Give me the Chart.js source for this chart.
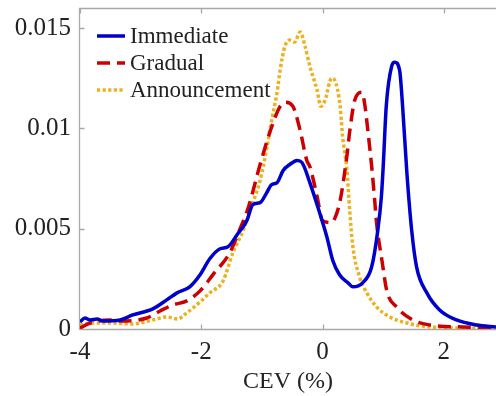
<!DOCTYPE html>
<html><head><meta charset="utf-8">
<script src="https://cdn.jsdelivr.net/npm/chart.js@4.4.1/dist/chart.umd.min.js"></script>
<style>html,body{margin:0;padding:0;background:#fff;overflow:hidden}</style>
</head><body>
<canvas id="c" width="496" height="396"></canvas>
<script>
// ---- data ----
const xTicks = [-4, -2, 0, 2];
const yTicks = [0, 0.005, 0.01, 0.015];
const seriesNames = ['Immediate', 'Gradual', 'Announcement'];

const immediateX = [-4.00,-3.92,-3.83,-3.72,-3.62,-3.34,-3.13,-2.80,-2.57,-2.40,-2.19,-2.02,-1.86,-1.69,-1.56,-1.41,-1.25,-1.15,-1.03,-0.92,-0.84,-0.75,-0.65,-0.54,-0.42,-0.34,-0.21,-0.08,0.07,0.17,0.28,0.42,0.50,0.66,0.81,0.91,0.97,1.00,1.05,1.14,1.19,1.27,1.32,1.39,1.47,1.55,1.72,1.93,2.21,2.54,2.86];
const immediateY = [0.00035,0.00055,0.00045,0.0005,0.0004,0.00045,0.0007,0.001,0.00145,0.0018,0.0021,0.0027,0.0035,0.0040,0.0041,0.0047,0.0054,0.0062,0.0063,0.0068,0.0072,0.0073,0.0079,0.0082,0.0084,0.0083,0.0073,0.0061,0.0046,0.0034,0.0027,0.0023,0.0021,0.0023,0.0031,0.0049,0.0066,0.0081,0.0111,0.0131,0.0133,0.0129,0.0111,0.0078,0.0049,0.0031,0.0018,0.00095,0.00045,0.0002,0.0001];

const gradualX = [-4.00,-3.83,-3.51,-3.34,-2.90,-2.68,-2.47,-2.24,-2.02,-1.81,-1.53,-1.36,-1.23,-1.03,-0.87,-0.70,-0.62,-0.49,-0.37,-0.26,-0.21,-0.09,0.00,0.15,0.20,0.29,0.40,0.45,0.53,0.65,0.70,0.75,0.81,0.86,0.89,0.98,1.06,1.22,1.49,1.77,2.31,2.86];
const gradualY = [0.00005,0.0003,0.00045,0.0004,0.00055,0.0009,0.0012,0.0014,0.0019,0.0027,0.0038,0.0050,0.0060,0.0082,0.0098,0.0111,0.0113,0.0111,0.0099,0.0084,0.0081,0.0066,0.0054,0.0053,0.0055,0.0064,0.0086,0.0099,0.0114,0.0118,0.0111,0.0098,0.0081,0.0064,0.0053,0.0034,0.0019,0.0011,0.00045,0.0002,0.0001,0.00005];

const announcementX = [-4.00,-3.79,-3.51,-3.13,-2.80,-2.57,-2.39,-2.24,-2.02,-1.86,-1.64,-1.48,-1.31,-1.15,-1.03,-0.92,-0.84,-0.75,-0.70,-0.62,-0.54,-0.46,-0.37,-0.29,-0.21,-0.09,-0.03,0.04,0.15,0.20,0.29,0.33,0.40,0.45,0.50,0.61,0.73,0.89,1.11,1.39,1.77,2.86];
const announcementY = [0.0002,0.0003,0.0003,0.00025,0.00045,0.0006,0.0005,0.0008,0.00135,0.0018,0.0024,0.0038,0.0049,0.0063,0.0074,0.0090,0.0104,0.0118,0.0129,0.0141,0.0144,0.0143,0.0148,0.0141,0.0131,0.0119,0.0111,0.0114,0.0125,0.0124,0.0111,0.0096,0.0080,0.0058,0.0041,0.0026,0.0018,0.0011,0.0006,0.0003,0.0001,0.00003];

const FONT = '"Liberation Serif", "Times New Roman", serif';
const AXIS_COLOR = '#a8a8a8';
const TEXT_COLOR = '#222222';

const pts = (xs, ys) => xs.map((x, i) => ({x, y: ys[i]}));

const frame = {
  id: 'frame',
  beforeDatasetsDraw(chart) {
    const {ctx, chartArea: a, scales: {x, y}} = chart;
    ctx.save();
    ctx.strokeStyle = AXIS_COLOR;
    ctx.lineWidth = 1.3;
    ctx.beginPath();
    const L = Math.round(a.left) - 0.5, B = Math.round(a.bottom) + 0.5, T = Math.round(a.top) + 0.5;
    ctx.moveTo(L, B); ctx.lineTo(L, T); ctx.lineTo(a.right + 2, T);
    ctx.moveTo(L, B); ctx.lineTo(a.right + 2, B);
    xTicks.forEach(v => {
      const p = Math.round(x.getPixelForValue(v)) + 0.5;
      ctx.moveTo(p, B); ctx.lineTo(p, B - 5);
      ctx.moveTo(p, T); ctx.lineTo(p, T + 5);
    });
    yTicks.forEach(v => {
      const p = Math.round(y.getPixelForValue(v)) + 0.5;
      ctx.moveTo(L, p); ctx.lineTo(L + 5, p);
    });
    ctx.stroke();
    ctx.restore();
  },
  afterDatasetsDraw(chart) {
    const {ctx, chartArea: a} = chart;
    ctx.save();
    ctx.font = '23px ' + FONT;
    ctx.textBaseline = 'middle';
    ctx.fillStyle = TEXT_COLOR;
    chart.data.datasets.forEach((ds, i) => {
      const yy = a.top + 28 + i * 27;
      const x0 = a.left + 17;
      ctx.save();
      ctx.strokeStyle = ds.borderColor;
      ctx.lineWidth = ds.borderWidth;
      ctx.setLineDash(ds.borderDash || []);
      ctx.beginPath();
      ctx.moveTo(x0, yy); ctx.lineTo(x0 + 28, yy);
      ctx.stroke();
      ctx.restore();
      ctx.fillText(ds.label, x0 + 33, yy + 1);
    });
    ctx.restore();
  }
};

new Chart(document.getElementById('c'), {
  type: 'line',
  data: {
    datasets: [
      {label: seriesNames[0], data: pts(immediateX, immediateY), borderColor: '#0000cc', borderWidth: 3.5, borderDash: []},
      {label: seriesNames[1], data: pts(gradualX, gradualY), borderColor: '#cc0000', borderWidth: 3.5, borderDash: [13, 7]},
      {label: seriesNames[2], data: pts(announcementX, announcementY), borderColor: '#edb120', borderWidth: 3.5, borderDash: [3.2, 2.4]}
    ]
  },
  options: {
    responsive: false,
    animation: false,
    devicePixelRatio: 1,
    layout: {padding: {top: 8, left: 0, right: 0, bottom: 0}},
    elements: {point: {radius: 0}, line: {cubicInterpolationMode: 'monotone', fill: false}},
    plugins: {legend: {display: false}, tooltip: {enabled: false}},
    scales: {
      x: {
        type: 'linear', min: -4, max: 2.86,
        grid: {display: false, drawTicks: false}, border: {display: false},
        afterBuildTicks: s => { s.ticks = xTicks.map(v => ({value: v})); },
        afterFit: s => { s.height = 67; s.paddingLeft = 0; s.paddingRight = 0; },
        ticks: {font: {family: FONT, size: 25}, color: TEXT_COLOR, padding: 8, maxRotation: 0,
                callback: v => String(v)},
        title: {display: true, text: 'CEV (%)', font: {family: FONT, size: 24}, color: TEXT_COLOR, padding: {top: 0, bottom: 0}}
      },
      y: {
        type: 'linear', min: 0, max: 0.016,
        grid: {display: false, drawTicks: false}, border: {display: false},
        afterBuildTicks: s => { s.ticks = yTicks.map(v => ({value: v})); },
        afterFit: s => { s.width = 80; s.paddingTop = 0; s.paddingBottom = 0; },
        ticks: {font: {family: FONT, size: 25}, color: TEXT_COLOR, padding: 9,
                callback: v => (v === 0 ? '0' : String(v))}
      }
    }
  },
  plugins: [frame]
});
</script>
</body></html>
